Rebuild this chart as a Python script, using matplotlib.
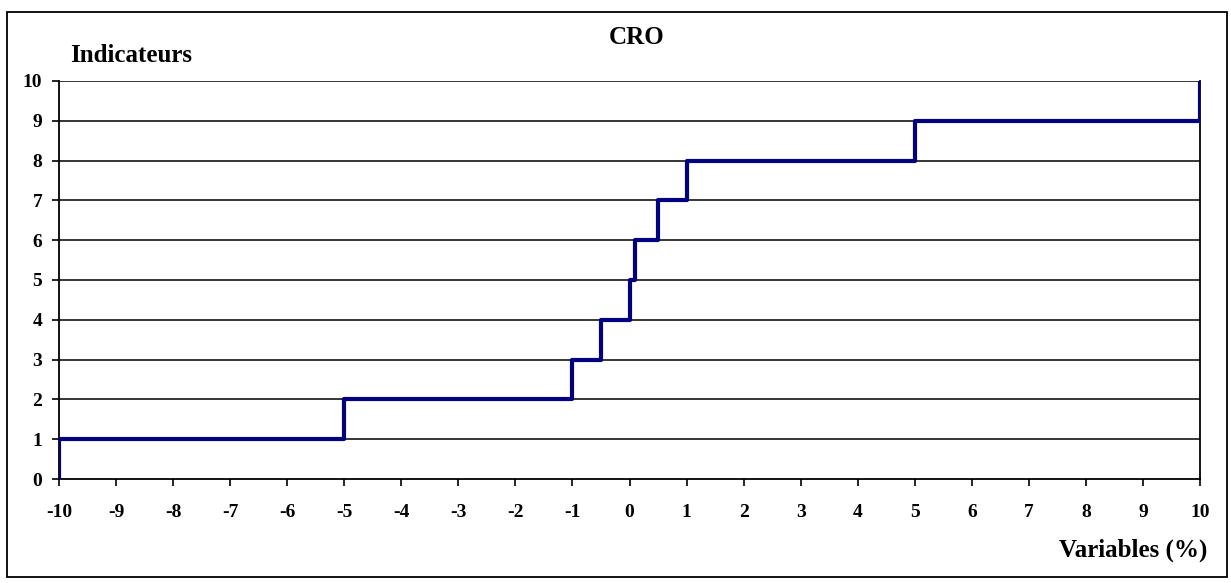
import numpy as np
import matplotlib.pyplot as plt
from matplotlib.patches import Rectangle

# step thresholds (%) and indicator levels
seuils = [-10, -10, -5, -1, -0.5, 0, 0.1, 0.5, 1, 5, 10, 10]
niveaux = [0, 1, 2, 3, 4, 5, 6, 7, 8, 9, 10, 10]
xticks = list(range(-10, 11))
yticks = list(range(0, 11))

plt.rcParams['font.family'] = ['Liberation Serif', 'DejaVu Serif']
plt.rcParams['font.weight'] = 'bold'

fig = plt.figure(figsize=(12.31, 5.83), dpi=100)
ax = fig.add_axes([59/1231, 1-479/583, (1200-59)/1231, (479-81)/583])

for y in yticks[1:]:
    ax.axhline(y, color='black', lw=1.1, zorder=1)

ax.plot(seuils, niveaux, drawstyle='steps-post', color='#000080', lw=3, zorder=3)

ax.set_xlim(-10, 10)
ax.set_ylim(0, 10)
ax.set_xticks(xticks)
ax.set_yticks(yticks)
ax.set_xticklabels([str(t) for t in xticks], fontsize=14, fontweight='bold')
ax.set_yticklabels([str(t) for t in yticks], fontsize=14, fontweight='bold')
ax.tick_params(direction='out', length=5, width=1.2)
ax.tick_params(axis='x', pad=13)
ax.tick_params(axis='y', pad=7)
ax.spines['top'].set_visible(False)
for s in ['left', 'bottom', 'right']:
    ax.spines[s].set_linewidth(1.3)

fig.text(637/1231, 1-37/583, 'CRO', ha='center', va='center', fontsize=18, fontweight='bold')
fig.text(70/1231, 1-55/583, 'Indicateurs', ha='left', va='center', fontsize=18, fontweight='bold')
fig.text(1207/1231, 1-550/583, 'Variables (%)', ha='right', va='center', fontsize=18, fontweight='bold')

fig.patches.append(Rectangle((7/1231, 6/583), (1227-7)/1231, (571-6)/583,
                             transform=fig.transFigure, fill=False, ec='black', lw=1.3))

fig.savefig('out.png', dpi=100)
